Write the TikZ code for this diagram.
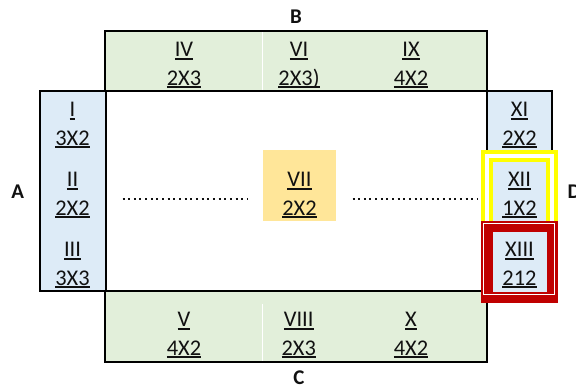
\documentclass[tikz,border=0pt]{standalone}
\usepackage{fontspec}
\setmainfont{Carlito}
\definecolor{cgreen}{HTML}{E2EFDA}
\definecolor{cblue}{HTML}{DDEBF7}
\definecolor{corange}{HTML}{FFE699}
\definecolor{cred}{HTML}{C00000}
\definecolor{cyellow}{HTML}{FFFF00}
\definecolor{ctext}{HTML}{111111}
\newcommand\myul[1]{\setbox0\hbox{#1}\rlap{\raisebox{-2.9bp}{\rule{\wd0}{2bp}}}\box0}
\begin{document}
\begin{tikzpicture}[x=1bp,y=-1bp,
  lbl/.style={anchor=base,inner sep=0pt,text=ctext,font=\fontsize{22.5}{27}\selectfont},
  side/.style={anchor=base,inner sep=0pt,text=ctext,font=\fontsize{21}{25}\selectfont\bfseries},
  blk/.style={draw=black,line width=2bp},
  dots/.style={line width=2bp,dash pattern=on 2bp off 3.65bp,draw=ctext}]
\useasboundingbox (0,0) rectangle (576,387);
\fill[white] (0,0) rectangle (576,387);
% top and bottom green
\fill[cgreen] (105,31) rectangle (487,91);
\draw[white,line width=1bp] (262,31) -- (262,91);
\draw[blk] (105,31) rectangle (487,91);
\fill[cgreen] (105,291) rectangle (487,362);
\draw[white,line width=1bp] (262,304) -- (262,362);
\draw[blk] (105,291) rectangle (487,362);
% middle
\fill[white] (106,91) rectangle (487,291);
\draw[blk] (106,91) rectangle (487,291);
% left column
\fill[cblue] (40,91) rectangle (106,291);
\draw[blk] (40,91) rectangle (106,291);
% right column
\fill[cblue] (487,91) rectangle (552,291);
\draw[blk] (487,91) rectangle (552,291);
% yellow frame
\draw[cyellow,line width=4bp,double=white,double distance=3.5bp] (487,156) rectangle (552,232);
% red frame
\fill[cred] (481,221) rectangle (557.5,303);
\draw[white,line width=1bp] (483.5,223.5) rectangle (554,294.5);
\fill[cblue] (493,232) rectangle (547,291.5);
% centre
\fill[corange] (263,150) rectangle (336,221);
% dotted
\coordinate (dl1) at (122.5,199);
\coordinate (dl2) at (247,199);
\coordinate (dr1) at (352.5,199);
\coordinate (dr2) at (477,199);
\draw[dots] (dl1) -- (dl2);
\draw[dots] (dr1) -- (dr2);
% texts top
\node[lbl] (IVa) at (184,56.7) {\myul{IV}};
\node[lbl] (IVb) at (184,85) {\myul{2X3}};
\node[lbl] (VIa) at (299,56.7) {\myul{VI}};
\node[lbl] (VIb) at (299,85) {\myul{2X3)}};
\node[lbl] (IXa) at (411,56.7) {\myul{IX}};
\node[lbl] (IXb) at (411,85) {\myul{4X2}};
% bottom
\node[lbl] (Va) at (184,326.7) {\myul{V}};
\node[lbl] (Vb) at (184,355) {\myul{4X2}};
\node[lbl] (VIIIa) at (298.7,326.7) {\myul{VIII}};
\node[lbl] (VIIIb) at (298.7,355) {\myul{2X3}};
\node[lbl] (Xa) at (411,326.7) {\myul{X}};
\node[lbl] (Xb) at (411,355) {\myul{4X2}};
% left
\node[lbl] (Ia) at (72.5,116.7) {\myul{I}};
\node[lbl] (Ib) at (72.5,145) {\myul{3X2}};
\node[lbl] (IIa) at (72.5,186.7) {\myul{II}};
\node[lbl] (IIb) at (72.5,215) {\myul{2X2}};
\node[lbl] (IIIa) at (72.5,256.7) {\myul{III}};
\node[lbl] (IIIb) at (72.5,285) {\myul{3X3}};
% right
\node[lbl] (XIa) at (519.5,116.7) {\myul{XI}};
\node[lbl] (XIb) at (519.5,145) {\myul{2X2}};
\node[lbl] (XIIa) at (519.5,186.7) {\myul{XII}};
\node[lbl] (XIIb) at (519.5,215) {\myul{1X2}};
\node[lbl] (XIIIa) at (519.5,256.7) {\myul{XIII}};
\node[lbl] (XIIIb) at (519.5,285) {\myul{212}};
% centre
\node[lbl] (VIIa) at (299.5,186.7) {\myul{VII}};
\node[lbl] (VIIb) at (299.5,215) {\myul{2X2}};
% side labels
\node[side] (B) at (296,23) {B};
\node[side] (C) at (299,384.5) {C};
\node[side] (A) at (17.7,198.5) {A};
\node[side,anchor=base west] (D) at (567.5,198.5) {D};
\end{tikzpicture}
\end{document}
